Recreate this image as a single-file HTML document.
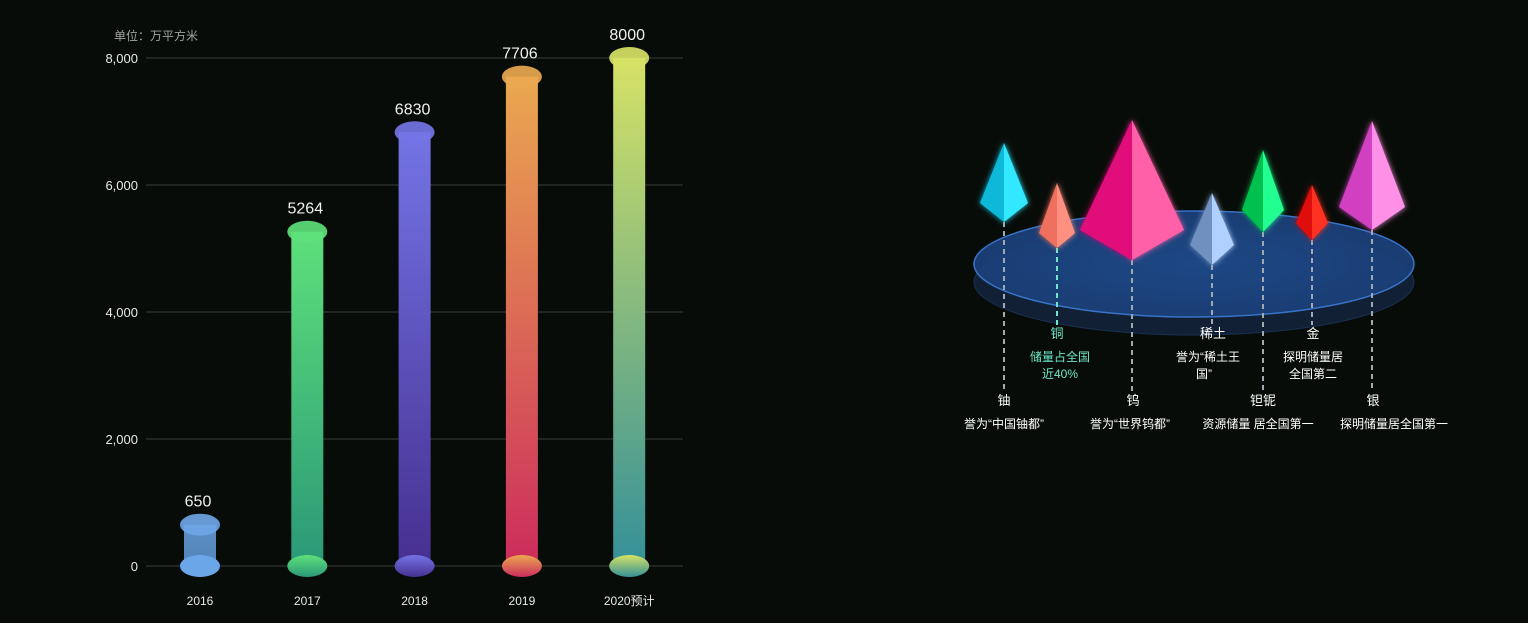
<!DOCTYPE html>
<html><head><meta charset="utf-8"><style>
html,body{margin:0;padding:0;background:#080c08;width:1528px;height:623px;overflow:hidden}
svg{display:block}
text{font-family:"Liberation Sans","Noto Sans CJK SC",sans-serif}
</style></head><body>
<svg id="s" width="1528" height="623">
<defs>
<filter id="glow" x="-50%" y="-50%" width="200%" height="200%"><feGaussianBlur stdDeviation="3" result="b"/><feMerge><feMergeNode in="b"/><feMergeNode in="SourceGraphic"/></feMerge></filter>
<radialGradient id="disk" cx="50%" cy="50%" r="50%"><stop offset="0" stop-color="#1e4b8a"/><stop offset="1" stop-color="#1b3f78"/></radialGradient>
</defs>
<g id="bars"></g>
<g id="right"></g>
</svg>
<script>
const categories=["2016","2017","2018","2019","2020预计"];
const values=[650,5264,6830,7706,8000];
const yTicks=[0,2000,4000,6000,8000];
const tickLabels=["0","2,000","4,000","6,000","8,000"];
const topColors=["#6fa6e6","#5ee07a","#7474e6","#eaa850","#d6e266"];
const bottomColors=["#5d9ad8","#2a9878","#463090","#cc2c5c","#349098"];
const NS="http://www.w3.org/2000/svg";
function mk(t,a,p){const e=document.createElementNS(NS,t);for(const k in a)e.setAttribute(k,a[k]);p.appendChild(e);return e;}
const g=document.getElementById('bars');
const x0=146,x1=683,yBase=566,yTop=58,yMax=8000;
const yS=v=>yBase-(v/yMax)*(yBase-yTop);
const xS=i=>200+i*107.3;
const defs=document.querySelector('defs');
const u=mk('text',{x:114,y:40,fill:'#a0a4a0','font-size':12},g);u.textContent='单位：万平方米';

yTicks.forEach((v,i)=>{
 const l=mk('line',{x1:x0,x2:x1,y1:yS(v),y2:yS(v),stroke:'#3a3e3a','stroke-width':1},g);
 
 const t=mk('text',{x:138,y:yS(v)+5,fill:'#e8e8e8','font-size':13,'text-anchor':'end'},g);t.textContent=tickLabels[i];
 
});
values.forEach((v,i)=>{
 const gr=mk('linearGradient',{id:'bg'+i,x1:0,y1:0,x2:0,y2:1},defs);
 mk('stop',{offset:0,'stop-color':topColors[i]},gr);mk('stop',{offset:1,'stop-color':bottomColors[i]},gr);
 const cx=xS(i),yt=yS(v);
 const r=mk('rect',{x:cx-16,y:yt,width:32,height:yBase-yt,fill:'url(#bg'+i+')',opacity:i==0?0.85:1},g);
 
 const eb=mk('ellipse',{cx:cx,cy:yBase,rx:20,ry:11,fill:i==0?'#6aa6e8':'url(#bg'+i+')'},g);
 
 const et=mk('ellipse',{cx:cx,cy:yt,rx:20,ry:11,fill:topColors[i],opacity:0.92},g);
 
 const vl=mk('text',{x:cx-2,y:yt-18,fill:'#f0f0f0','font-size':16,'text-anchor':'middle'},g);vl.textContent=v;
 
 const xl=mk('text',{x:cx,y:605,fill:'#e8e8e8','font-size':12,'text-anchor':'middle'},g);xl.textContent=categories[i];
 
});
// right side
const R=document.getElementById('right');
const dcx=1194,dcy=264,drx=220,dry=53;
const d2=mk('ellipse',{cx:dcx,cy:dcy+18,rx:drx,ry:dry,fill:'#142540',stroke:'#1d3a66','stroke-width':1,opacity:0.8},R);

const d1=mk('ellipse',{cx:dcx,cy:dcy,rx:drx,ry:dry,fill:'url(#disk)',stroke:'#3a78d0','stroke-width':1.5,opacity:0.95},R);

const pyr=[
 {x:1004,top:143,w:24,h:60,b:222,c1:'#10b8d8',c2:'#30e8ff',lineEnd:392},
 {x:1057,top:183,w:18,h:50,b:248,c1:'#f07060',c2:'#ff9080',lineEnd:325,cyan:true},
 {x:1132,top:120,w:52,h:110,b:260,c1:'#e0107a',c2:'#ff60a8',lineEnd:392},
 {x:1212,top:193,w:22,h:52,b:265,c1:'#7090c0',c2:'#b0d0ff',lineEnd:325},
 {x:1263,top:150,w:21,h:60,b:232,c1:'#00c050',c2:'#20ff90',lineEnd:392},
 {x:1312,top:185,w:16,h:38,b:240,c1:'#e01010',c2:'#ff3020',lineEnd:325},
 {x:1372,top:121,w:33,h:86,b:230,c1:'#d040c0',c2:'#ff90e8',lineEnd:392}
];
pyr.forEach((p,i)=>{
 const ln=mk('line',{x1:p.x,x2:p.x,y1:p.b,y2:p.lineEnd,stroke:p.cyan?'#6ee8c8':'#a0a8b0','stroke-width':2,'stroke-dasharray':'5 4'},R);
 
 const mid=p.top+p.h;
 const gp=mk('g',{filter:'url(#glow)'},R);
 
 mk('polygon',{points:`${p.x},${p.top} ${p.x-p.w},${mid} ${p.x},${p.b}`,fill:p.c1},gp);
 mk('polygon',{points:`${p.x},${p.top} ${p.x+p.w},${mid} ${p.x},${p.b}`,fill:p.c2},gp);
});
const labels=[
 [1004,405,'钨'==''?'':'铀','#fff',13],[1004,428,'誉为“中国铀都”','#fff',12],
 [1057,338,'铜','#6ee8c8',13],[1060,361,'储量占全国','#6ee8c8',12],[1060,378,'近40%','#6ee8c8',12],
 [1133,405,'钨','#fff',13],[1130,428,'誉为“世界钨都”','#fff',12],
 [1213,338,'稀土','#fff',13],[1208,361,'誉为“稀土王','#fff',12],[1204,378,'国”','#fff',12],
 [1263,405,'钽铌','#fff',13],[1258,428,'资源储量 居全国第一','#fff',12],
 [1313,338,'金','#fff',13],[1313,361,'探明储量居','#fff',12],[1313,378,'全国第二','#fff',12],
 [1373,405,'银','#fff',13],[1394,428,'探明储量居全国第一','#fff',12]
];
labels.forEach(l=>{
 const t=mk('text',{x:l[0],y:l[1],fill:l[3],'font-size':l[4],'text-anchor':'middle'},R);t.textContent=l[2];
 
});
</script>
</body></html>
